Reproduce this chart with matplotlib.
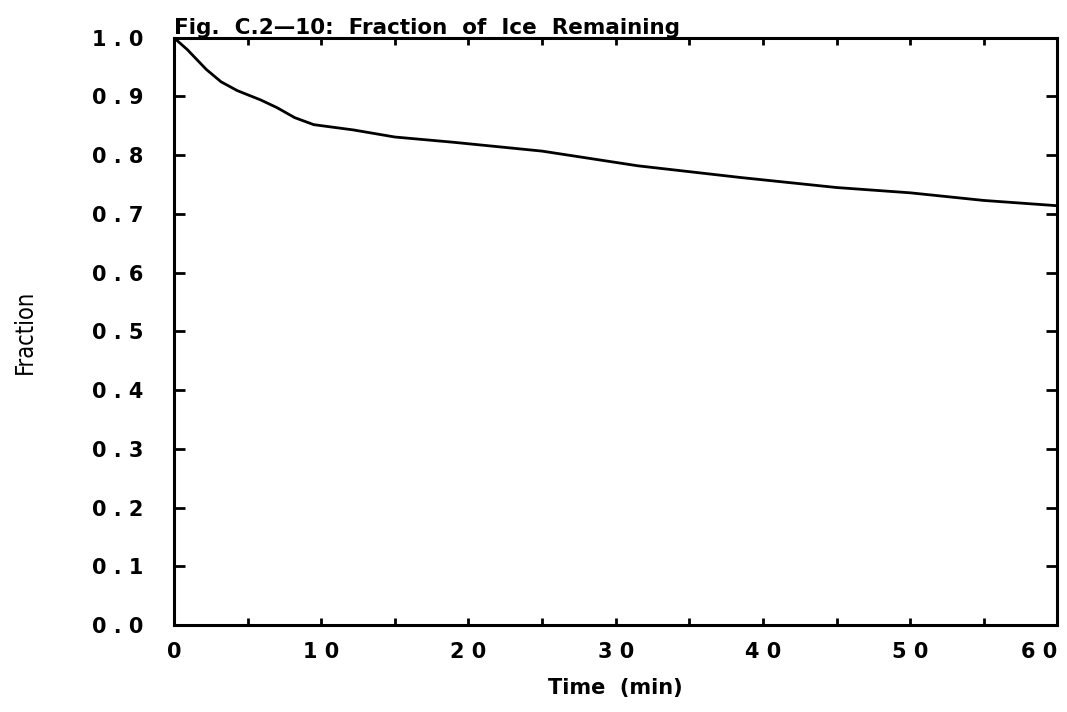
import numpy as np
import matplotlib
matplotlib.use("Agg")
import matplotlib.pyplot as plt

# values
time_min = [0, 0.9, 2.2, 3.2, 4.3, 5.9, 7.0, 8.2, 9.5, 12.2, 15, 19, 25, 31.5, 38.5, 45, 50, 55, 60]
fraction = [1.0, 0.980, 0.946, 0.925, 0.910, 0.894, 0.881, 0.864, 0.852, 0.843, 0.831, 0.822,
            0.807, 0.782, 0.762, 0.745, 0.736, 0.723, 0.714]

x_ticks = [0, 10, 20, 30, 40, 50, 60]
x_minor = [5, 15, 25, 35, 45, 55]
y_ticks = [0.0, 0.1, 0.2, 0.3, 0.4, 0.5, 0.6, 0.7, 0.8, 0.9, 1.0]


def spaced(s):
    return " ".join(s)


fig = plt.figure(figsize=(10.67, 7.12), dpi=100)
ax = fig.add_axes([0.163, 0.122, 0.828, 0.825])

ax.plot(time_min, fraction, color="black", lw=2.0)

ax.set_xlim(0, 60)
ax.set_ylim(0, 1.0)
ax.set_xticks(x_ticks)
ax.set_xticks(x_minor, minor=True)
ax.set_xticklabels([spaced(str(v)) for v in x_ticks])
ax.set_yticks(y_ticks)
ax.set_yticklabels([spaced("%.1f" % v) for v in y_ticks])
ax.get_xticklabels()[-1].set_ha("right")

ax.tick_params(axis="both", which="both", direction="in", top=True, right=True,
               width=2.0, labelsize=15)
ax.tick_params(axis="y", which="major", length=8, pad=22)
ax.tick_params(axis="x", which="major", length=5, pad=12)
ax.tick_params(axis="x", which="minor", length=5)
for lab in ax.get_xticklabels() + ax.get_yticklabels():
    lab.set_fontweight("bold")
for s in ax.spines.values():
    s.set_linewidth(2.2)

ax.set_xlabel("Time  (min)", fontsize=15, fontweight="bold", labelpad=12)
ax.set_ylabel("Fraction", fontsize=17, fontstretch="condensed")
ax.yaxis.set_label_coords(-0.155, 0.5)
ax.set_title("Fig.  C.2\u201410:  Fraction  of  Ice  Remaining", fontsize=15.5,
             fontweight="bold", loc="left", pad=3)

fig.savefig("out.png", dpi=100)
